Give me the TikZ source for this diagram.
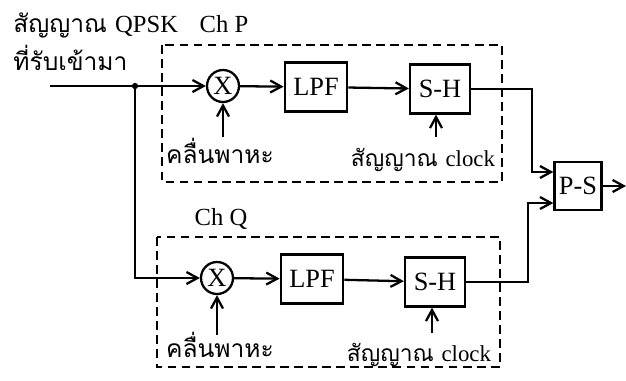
\documentclass[tikz,border=0pt]{standalone}
\usepackage{fontspec}
\setmainfont{Liberation Serif}
\newfontfamily\thaifont[Script=Thai]{Loma}
\usetikzlibrary{arrows.meta,positioning}

\begin{document}
\begin{tikzpicture}[
  x=0.02cm, y=-0.02cm,
  blk/.style={
    draw,
    line width=1.3pt,
    minimum width=1.25cm,
    minimum height=0.98cm,
    inner sep=1pt,
    font=\fontsize{15}{18}\selectfont
  },
  mix/.style={draw,circle,line width=1.3pt,minimum size=0.64cm,inner sep=0pt,
    font=\fontsize{15}{18}\selectfont},
  chan/.style={draw,dashed,dash pattern=on 5pt off 3pt,line width=1.3pt},
  wire/.style={line width=1.3pt},
  arrow/.style={-{Straight Barb[length=2.2mm,width=2.4mm]},line width=1.3pt},
  lbl/.style={inner sep=0pt,anchor=base,font=\fontsize{14}{17}\selectfont},
  thai/.style={inner sep=0pt,anchor=base,font=\thaifont\fontsize{14}{17}\selectfont}
]
  \useasboundingbox (0,0) rectangle (626,380);

  % channel frames
  \draw[chan] (162,45) rectangle (502,182);
  \draw[chan] (157,237) rectangle (500,367);

  % input labels
  \node[thai,anchor=base west] (inLabel) at (13,32)
    {สัญญาณ {\rmfamily\fontsize{14}{17}\selectfont QPSK}};
  \node[thai,anchor=base west] (inLabel2) at (13,70) {ที่รับเข้ามา};
  \node[lbl] (chPLabel) at (224,32) {Ch P};
  \node[lbl] (chQLabel) at (221,225) {Ch Q};

  % Ch P
  \node[mix] (mixP) at (223,86) {X};
  \node[blk] (lpfP) at (316,87) {LPF};
  \node[blk,minimum width=1.2cm] (shP) at (440,89) {S-H};
  \node[thai] (carP) at (220,163) {คลื่นพาหะ};
  \node[thai,font=\thaifont\fontsize{13}{16}\selectfont] (clkP) at (423,166)
    {สัญญาณ {\rmfamily\fontsize{13}{16}\selectfont clock}};

  % Ch Q
  \node[mix] (mixQ) at (217,278) {X};
  \node[blk] (lpfQ) at (312,279) {LPF};
  \node[blk,minimum width=1.2cm] (shQ) at (435,282) {S-H};
  \node[thai] (carQ) at (220,357) {คลื่นพาหะ};
  \node[thai,font=\thaifont\fontsize{13}{16}\selectfont] (clkQ) at (419,361)
    {สัญญาณ {\rmfamily\fontsize{13}{16}\selectfont clock}};

  % combiner
  \node[blk,minimum width=0.94cm,minimum height=0.96cm] (ps) at (578,186) {P-S};

  \coordinate (in) at (50,86);
  \coordinate (split) at (135,86);
  \coordinate (carPsrc) at (223,137);
  \coordinate (carQsrc) at (217,335);
  \coordinate (clkPsrc) at (436,137);
  \coordinate (clkQsrc) at (432,333);
  \coordinate (bendP) at (532,89);
  \coordinate (bendQ) at (528,283);
  \coordinate (out) at (626,186);

  \draw[wire] (in) -- (split);
  \fill (split) circle[radius=1.8pt];
  \draw[arrow] (split) -- (mixP);
  \draw[arrow] (split) |- (mixQ);

  \draw[arrow] (mixP) -- (lpfP);
  \draw[arrow] (lpfP) -- (shP);
  \draw[arrow] (carPsrc) -- (mixP);
  \draw[arrow] (clkPsrc) -- (clkPsrc |- shP.south);

  \draw[arrow] (mixQ) -- (lpfQ);
  \draw[arrow] (lpfQ) -- (shQ);
  \draw[arrow] (carQsrc) -- (mixQ);
  \draw[arrow] (clkQsrc) -- (clkQsrc |- shQ.south);

  \draw[arrow] (shP.east) -- (shP.east -| bendP) |- ([yshift=0.28cm]ps.west);
  \draw[arrow] (shQ.east) -- (shQ.east -| bendQ) |- ([yshift=-0.34cm]ps.west);
  \draw[arrow] (ps.east) -- (out);
\end{tikzpicture}
\end{document}
